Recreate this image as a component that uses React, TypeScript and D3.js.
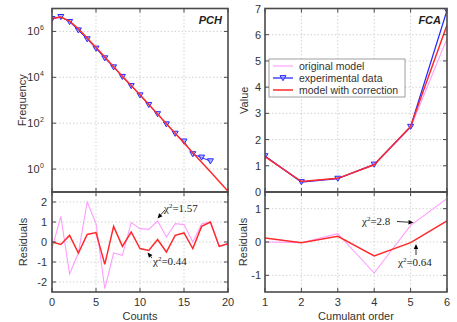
import React from "react";
import * as d3 from "d3";

// ---- PCH data (left) ----
const counts = d3.range(0, 21);
const expCounts = d3.range(0, 19);
const expFreq = [3.5e6, 4.3e6, 2.6e6, 1.12e6, 4.6e5, 1.8e5, 6.8e4, 2.75e4, 1.05e4, 4.2e3, 1.65e3, 630, 250, 90, 35, 16, 4.5, 3.2, 2.2];
const modelFreq = [3.8e6, 4.2e6, 2.8e6, 1.32e6, 5.2e5, 2.0e5, 7.6e4, 2.9e4, 1.1e4, 4.4e3, 1.74e3, 660, 250, 95, 36, 13.8, 5.2, 2.0, 0.76, 0.29, 0.107];
const resOrigL = [-0.33, 1.28, -1.6, -0.55, 2.0, 0.92, -2.33, -0.55, -0.67, 0.97, 0.67, 0.63, 1.05, 0.25, 0.92, 0.87, 0.0, 0.9, 1.0, -0.2, -0.08];
const resCorrL = [0.0, -0.12, 0.33, -0.55, 0.38, 0.47, -1.12, 0.78, -0.22, 0.5, -0.33, -0.42, 0.12, -0.5, 0.33, 0.45, -0.33, 0.78, 1.0, -0.22, -0.08];

// ---- FCA data (right) ----
const orders = [1, 2, 3, 4, 5, 6];
const fcaExp = [1.37, 0.38, 0.51, 1.05, 2.49, 6.93];
const fcaOrig = [1.35, 0.4, 0.52, 1.04, 2.45, 5.85];
const fcaCorr = [1.35, 0.4, 0.52, 1.04, 2.5, 6.37];
const resOrigR = [0.0, -0.02, 0.25, -0.93, 0.5, 1.3];
const resCorrR = [0.12, -0.02, 0.17, -0.42, -0.02, 0.63];

const xTicksL = [0, 5, 10, 15, 20];
const logTicks = [1, 1e2, 1e4, 1e6];
const logExp = ["0", "2", "4", "6"];
const resTicksL = [-2, -1, 0, 1, 2];
const valTicks = [0, 1, 2, 3, 4, 5, 6, 7];
const resTicksR = [-1, 0, 1];
const legendLabels = ["original model", "experimental data", "model with correction"];

const RED = "#ff2a2a";
const PINK = "#ff9cff";
const BLUE = "#2a2aff";
const FRAME = "#4a4a4a";
const GRID = "#c8c8c8";
const SANS = "Liberation Sans, Arial, sans-serif";
const SERIF = "Liberation Serif, Times New Roman, serif";

const L = { x0: 52, x1: 228 };
const R = { x0: 265, x1: 447 };
const TOP = 8.5, MID = 192, BOT = 292;

const xL = d3.scaleLinear().domain([0, 20]).range([L.x0, L.x1]);
const yTop = d3.scaleLog().domain([0.1, 1e7]).range([MID, TOP]);
const yResL = d3.scaleLinear().domain([-2.5, 2.5]).range([BOT, MID]);
const xR = d3.scaleLinear().domain([1, 6]).range([R.x0, R.x1]);
const yVal = d3.scaleLinear().domain([0, 7]).range([MID, TOP]);
const yResR = d3.scaleLinear().domain([-1.5, 1.5]).range([BOT, MID]);

function tri(cx: number, cy: number, s = 3) {
  return `M${cx - s},${cy - s * 0.8}L${cx + s},${cy - s * 0.8}L${cx},${cy + s * 0.9}Z`;
}

function Frame({ x0, x1, y0, y1, xt, yt }: any) {
  const t = 4;
  return (
    <g>
      {xt.map((v: number, i: number) => (
        <g key={"x" + i}>
          <line x1={v} x2={v} y1={y1} y2={y1 - t} stroke={FRAME} strokeWidth={1} />
          <line x1={v} x2={v} y1={y0} y2={y0 + t} stroke={FRAME} strokeWidth={1} />
        </g>
      ))}
      {yt.map((v: number, i: number) => (
        <g key={"y" + i}>
          <line x1={x0} x2={x0 + t} y1={v} y2={v} stroke={FRAME} strokeWidth={1} />
          <line x1={x1} x2={x1 - t} y1={v} y2={v} stroke={FRAME} strokeWidth={1} />
        </g>
      ))}
      <rect x={x0} y={y0} width={x1 - x0} height={y1 - y0} fill="none" stroke={FRAME} strokeWidth={1.6} />
    </g>
  );
}

function Grid({ x0, x1, y0, y1, xs, ys }: any) {
  return (
    <g stroke={GRID} strokeWidth={0.8} strokeDasharray="1.5,2">
      {xs.map((v: number, i: number) => <line key={"gx" + i} x1={v} x2={v} y1={y0} y2={y1} />)}
      {ys.map((v: number, i: number) => <line key={"gy" + i} x1={x0} x2={x1} y1={v} y2={v} />)}
    </g>
  );
}

function Arrow({ x1, y1, x2, y2 }: any) {
  const a = Math.atan2(y2 - y1, x2 - x1);
  const h = 5, w = 2.2;
  const bx = x2 - h * Math.cos(a), by = y2 - h * Math.sin(a);
  const px = -Math.sin(a) * w, py = Math.cos(a) * w;
  return (
    <g>
      <line x1={x1} y1={y1} x2={bx} y2={by} stroke="#000" strokeWidth={0.8} />
      <path d={`M${x2},${y2}L${bx + px},${by + py}L${bx - px},${by - py}Z`} fill="#000" />
    </g>
  );
}

function Chi({ x, y, v }: any) {
  return (
    <text x={x} y={y} fontFamily={SERIF} fontSize={11} fill="#222">
      χ<tspan dy={-4} fontSize={7}>2</tspan><tspan dy={4}>={v}</tspan>
    </text>
  );
}

export default function App() {
  const topModel = d3.line<number>().x((_, i) => xL(counts[i])).y((d) => yTop(d))(modelFreq) || "";
  const topExp = d3.line<number>().x((_, i) => xL(expCounts[i])).y((d) => yTop(d))(expFreq) || "";
  const resOL = d3.line<number>().x((_, i) => xL(counts[i])).y((d) => yResL(d))(resOrigL) || "";
  const resCL = d3.line<number>().x((_, i) => xL(counts[i])).y((d) => yResL(d))(resCorrL) || "";
  const lr = (arr: number[], ys: any) => d3.line<number>().x((_, i) => xR(orders[i])).y((d) => ys(d))(arr) || "";

  return (
    <svg width={457} height={322} style={{ position: "absolute", left: 0, top: 0, background: "#fff" }} fontFamily={SANS}>
      <defs>
        <clipPath id="cTL"><rect x={L.x0} y={TOP} width={L.x1 - L.x0} height={MID - TOP} /></clipPath>
        <clipPath id="cBL"><rect x={L.x0} y={MID} width={L.x1 - L.x0} height={BOT - MID} /></clipPath>
        <clipPath id="cTR"><rect x={R.x0} y={TOP} width={R.x1 - R.x0} height={MID - TOP} /></clipPath>
        <clipPath id="cBR"><rect x={R.x0} y={MID} width={R.x1 - R.x0} height={BOT - MID} /></clipPath>
      </defs>
      <rect x={0} y={0} width={457} height={322} fill="#fff" />

      {/* ===== Left top ===== */}
      <Grid x0={L.x0} x1={L.x1} y0={TOP} y1={MID} xs={[5, 10, 15].map(xL)} ys={logTicks.map(yTop)} />
      <g clipPath="url(#cTL)">
        <path d={topExp} fill="none" stroke={BLUE} strokeWidth={1} />
        {expFreq.map((d, i) => (
          <path key={i} d={tri(xL(expCounts[i]), yTop(d))} fill="#8f9cff" fillOpacity={0.6} stroke={BLUE} strokeWidth={1} />
        ))}
        <path d={topModel} fill="none" stroke={RED} strokeWidth={1.5} />
      </g>
      <Frame x0={L.x0} x1={L.x1} y0={TOP} y1={MID} xt={xTicksL.map(xL)} yt={logTicks.map(yTop)} />
      <text x={L.x1 - 6} y={TOP + 15} textAnchor="end" fontSize={11} fontWeight="bold" fontStyle="italic" fill="#222">PCH</text>
      {logTicks.map((t, i) => (
        <text key={i} x={44} y={yTop(t) + 4} textAnchor="end" fontSize={11} fill="#333">
          10
          <tspan dx={0.5} dy={-5} fontSize={7}>{logExp[i]}</tspan>
        </text>
      ))}
      <text transform={`translate(26,${(TOP + MID) / 2}) rotate(-90)`} textAnchor="middle" fontSize={11} fill="#333">Frequency</text>

      {/* ===== Left bottom ===== */}
      <Grid x0={L.x0} x1={L.x1} y0={MID} y1={BOT} xs={[5, 10, 15].map(xL)} ys={resTicksL.map(yResL)} />
      <g clipPath="url(#cBL)">
        <path d={resOL} fill="none" stroke={PINK} strokeWidth={1.1} />
        <path d={resCL} fill="none" stroke={RED} strokeWidth={1.5} />
      </g>
      <Frame x0={L.x0} x1={L.x1} y0={MID} y1={BOT} xt={xTicksL.map(xL)} yt={resTicksL.map(yResL)} />
      {resTicksL.map((t, i) => (
        <text key={i} x={47} y={yResL(t) + 4} textAnchor="end" fontSize={11} fill="#333">{t}</text>
      ))}
      {xTicksL.map((t, i) => (
        <text key={i} x={xL(t)} y={306} textAnchor="middle" fontSize={11} fill="#333">{t}</text>
      ))}
      <text x={(L.x0 + L.x1) / 2} y={320} textAnchor="middle" fontSize={11} fill="#333">Counts</text>
      <text transform={`translate(27,${(MID + BOT) / 2}) rotate(-90)`} textAnchor="middle" fontSize={11} fill="#333">Residuals</text>
      <Chi x={164} y={212} v="1.57" />
      <Arrow x1={165} y1={210} x2={157.5} y2={218.5} />
      <Chi x={153} y={265} v="0.44" />
      <Arrow x1={152} y1={258} x2={147.5} y2={252.5} />

      {/* ===== Right top ===== */}
      <Grid x0={R.x0} x1={R.x1} y0={TOP} y1={MID} xs={[2, 3, 4, 5].map(xR)} ys={[1, 2, 3, 4, 5, 6].map(yVal)} />
      <g clipPath="url(#cTR)">
        <path d={lr(fcaOrig, yVal)} fill="none" stroke={PINK} strokeWidth={1.1} />
        <path d={lr(fcaExp, yVal)} fill="none" stroke={BLUE} strokeWidth={1.3} />
        {fcaExp.map((d, i) => (
          <path key={i} d={tri(xR(orders[i]), yVal(d))} fill="#8f9cff" fillOpacity={0.6} stroke={BLUE} strokeWidth={1} />
        ))}
        <path d={lr(fcaCorr, yVal)} fill="none" stroke={RED} strokeWidth={1.5} />
      </g>
      <Frame x0={R.x0} x1={R.x1} y0={TOP} y1={MID} xt={orders.map(xR)} yt={valTicks.map(yVal)} />
      <text x={R.x1 - 6} y={TOP + 15} textAnchor="end" fontSize={11} fontWeight="bold" fontStyle="italic" fill="#222">FCA</text>
      {valTicks.map((t, i) => (
        <text key={i} x={261} y={yVal(t) + 4} textAnchor="end" fontSize={11} fill="#333">{t}</text>
      ))}
      <text transform={`translate(248,${(TOP + MID) / 2}) rotate(-90)`} textAnchor="middle" fontSize={11} fill="#333">Value</text>

      {/* Legend */}
      <g>
        <rect x={269} y={59} width={136} height={38} fill="#fff" stroke="#888" strokeWidth={0.8} />
        <line x1={273} x2={293} y1={66} y2={66} stroke={PINK} strokeWidth={1.1} />
        <line x1={273} x2={293} y1={78} y2={78} stroke={BLUE} strokeWidth={1.3} />
        <path d={tri(283, 78)} fill="#8f9cff" fillOpacity={0.6} stroke={BLUE} strokeWidth={1} />
        <line x1={273} x2={293} y1={90} y2={90} stroke={RED} strokeWidth={1.5} />
        {legendLabels.map((s, i) => (
          <text key={i} x={299} y={70 + i * 12} fontSize={10.5} fill="#333">{s}</text>
        ))}
      </g>

      {/* ===== Right bottom ===== */}
      <Grid x0={R.x0} x1={R.x1} y0={MID} y1={BOT} xs={[2, 3, 4, 5].map(xR)} ys={resTicksR.map(yResR)} />
      <g clipPath="url(#cBR)">
        <path d={lr(resOrigR, yResR)} fill="none" stroke={PINK} strokeWidth={1.1} />
        <path d={lr(resCorrR, yResR)} fill="none" stroke={RED} strokeWidth={1.5} />
      </g>
      <Frame x0={R.x0} x1={R.x1} y0={MID} y1={BOT} xt={orders.map(xR)} yt={resTicksR.map(yResR)} />
      {resTicksR.map((t, i) => (
        <text key={i} x={261} y={yResR(t) + 4} textAnchor="end" fontSize={11} fill="#333">{t}</text>
      ))}
      {orders.map((t, i) => (
        <text key={i} x={xR(t)} y={306} textAnchor="middle" fontSize={11} fill="#333">{t}</text>
      ))}
      <text x={(R.x0 + R.x1) / 2} y={320} textAnchor="middle" fontSize={11} fill="#333">Cumulant order</text>
      <text transform={`translate(247,${(MID + BOT) / 2}) rotate(-90)`} textAnchor="middle" fontSize={11} fill="#333">Residuals</text>
      <Chi x={362} y={225} v="2.8" />
      <Arrow x1={397} y1={221.5} x2={413.5} y2={222.5} />
      <Chi x={398} y={266} v="0.64" />
      <Arrow x1={416} y1={255} x2={416} y2={244} />
    </svg>
  );
}
